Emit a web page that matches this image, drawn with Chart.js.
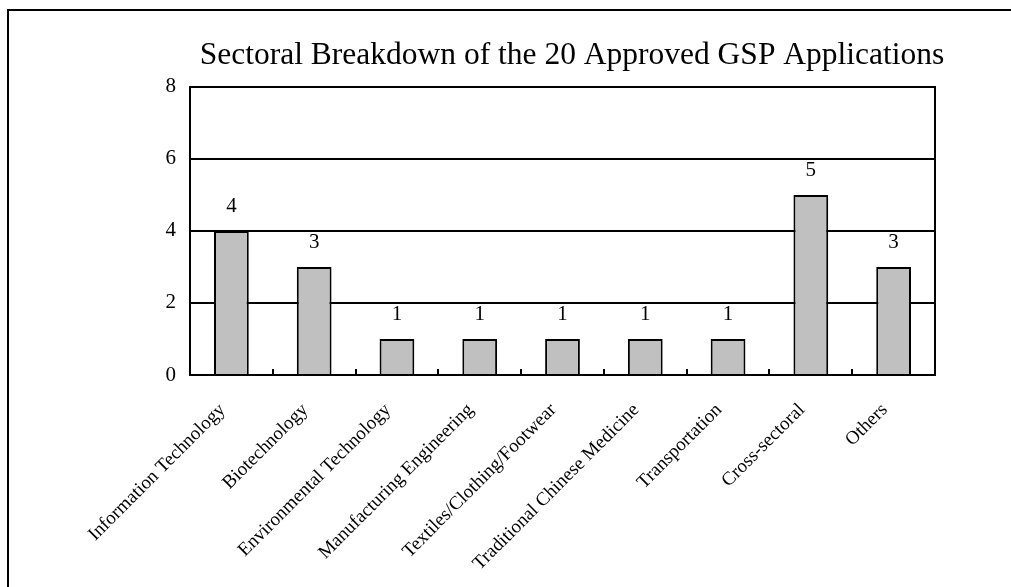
<!doctype html>
<html>
<head>
	<title>Sectoral Breakdown</title>
	<script src="https://cdn.jsdelivr.net/npm/chart.js@4.4.0/dist/chart.umd.min.js"></script>
	<style>
		html, body { margin: 0; padding: 0; background: #fff; overflow: hidden; }
		#frame { position: absolute; left: 7px; top: 9px; width: 1100px; height: 700px; border: 2px solid #000; }
		#canvas { position: absolute; left: 0; top: 0; }
	</style>
</head>
<body>
	<div id="frame"></div>
	<canvas id="canvas" width="1011" height="587"></canvas>
	<script>
		var titleText = 'Sectoral Breakdown of the 20 Approved GSP Applications';
		var sectors = ['Information Technology', 'Biotechnology', 'Environmental Technology',
			'Manufacturing Engineering', 'Textiles/Clothing/Footwear', 'Traditional Chinese Medicine',
			'Transportation', 'Cross-sectoral', 'Others'];
		var applications = [4, 3, 1, 1, 1, 1, 1, 5, 3];
		var yMin = 0, yMax = 8, yStep = 2;

		var serif = '"Liberation Serif", "Times New Roman", serif';

		// value labels over each bar
		var barLabels = {
			id: 'barLabels',
			afterDatasetsDraw: function (chart) {
				var ctx = chart.ctx;
				var meta = chart.getDatasetMeta(0);
				ctx.save();
				ctx.font = '21px ' + serif;
				ctx.fillStyle = '#000';
				ctx.textAlign = 'center';
				ctx.textBaseline = 'middle';
				meta.data.forEach(function (bar, i) {
					ctx.fillText(applications[i], bar.x, bar.y - 24);
				});
				ctx.restore();
			}
		};

		var config = {
			type: 'bar',
			data: {
				labels: sectors,
				datasets: [{
					data: applications,
					backgroundColor: '#c0c0c0',
					borderColor: '#000',
					borderWidth: 2,
					barPercentage: 0.42,
					categoryPercentage: 1
				}]
			},
			options: {
				responsive: false,
				animation: false,
				layout: { padding: { left: 133, right: 0, top: 37, bottom: 0 } },
				plugins: {
					legend: { display: false },
					tooltip: { enabled: false },
					title: {
						display: true,
						text: titleText,
						color: '#000',
						font: { family: serif, size: 31.5, weight: 'normal' },
						padding: { top: 0, bottom: 12 }
					}
				},
				scales: {
					x: {
						grid: { display: true, drawOnChartArea: false, drawTicks: true, tickLength: -6, color: '#000', lineWidth: 2, offset: true },
						border: { display: true, color: '#000', width: 2 },
						ticks: { color: '#000', font: { family: serif, size: 19 }, maxRotation: 45, minRotation: 45, padding: 30, labelOffset: -9, autoSkip: false },
						afterFit: function (s) { s.height = 212; }
					},
					y: {
						min: yMin, max: yMax,
						ticks: { stepSize: yStep, color: '#000', font: { family: serif, size: 21 }, padding: 14 },
						grid: { color: '#000', lineWidth: 2, drawTicks: false },
						border: { display: true, color: '#000', width: 2 },
						afterFit: function (s) { s.width = 57; }
					},
					y2: {
						position: 'right',
						min: yMin, max: yMax,
						ticks: { display: false },
						grid: { display: false },
						border: { display: true, color: '#000', width: 2 },
						afterFit: function (s) { s.width = 76; }
					}
				}
			},
			plugins: [barLabels]
		};

		window.onload = function () {
			var ctx = document.getElementById('canvas').getContext('2d');
			window.myBar = new Chart(ctx, config);
		};
	</script>
</body>
</html>
